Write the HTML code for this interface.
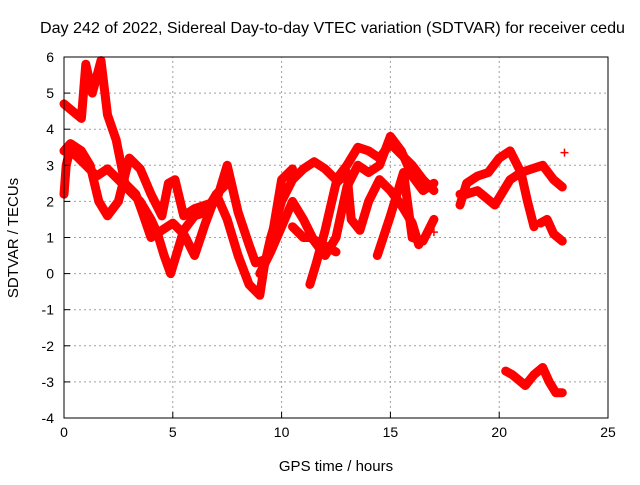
<!DOCTYPE html>
<html><head><meta charset="utf-8"><style>
body{margin:0;background:#fff;}
svg text{font-family:"Liberation Sans",sans-serif;font-size:14px;fill:#000;}
</style></head><body>
<svg id="chart" width="640" height="480" viewBox="0 0 640 480" xmlns="http://www.w3.org/2000/svg">
<text x="40" y="33" style="font-size:16px" textLength="585" lengthAdjust="spacingAndGlyphs">Day 242 of 2022, Sidereal Day-to-day VTEC variation (SDTVAR) for receiver cedu</text>
<g id="grid"></g>
<g id="marks"></g>
<rect x="64" y="57" width="544" height="361" fill="none" stroke="#000" stroke-width="1"/>
<g id="ticks"></g>
<text x="336" y="471" text-anchor="middle" style="font-size:15px">GPS time / hours</text>
<text transform="translate(18,238) rotate(-90)" text-anchor="middle" style="font-size:15px">SDTVAR / TECUs</text>
</svg>
<script>
const xTicks=[0,5,10,15,20,25];
const yTicks=[-4,-3,-2,-1,0,1,2,3,4,5,6];
const track1=[[0,2.2],[0.1,3.0],[0.3,3.5],[0.5,3.3],[1,3.0],[1.5,2.7],[2,2.9],[2.5,2.6],[3,2.3],[3.5,2.0],[4,1.5],[4.3,1.1],[4.6,0.5],[4.9,0.0],[5.1,0.4],[5.5,1.2],[6,1.6],[6.5,1.7],[7,2.2],[7.5,1.5],[8,0.5],[8.5,-0.3],[9,-0.6],[9.2,0.2],[9.5,1.0],[10,2.0],[10.5,2.6],[11,2.9],[11.5,3.1],[12,2.9],[12.5,2.6],[13,3.0],[13.5,3.5],[14,3.4],[14.5,3.2],[15,3.6],[15.5,3.3],[16,3.0],[16.5,2.6],[17,2.3]];
const track2=[[0,3.4],[0.3,3.6],[0.8,3.4],[1.2,3.0],[1.6,2.0],[2,1.6],[2.5,2.0],[3,3.2],[3.5,2.9],[4,2.2],[4.5,1.6],[4.8,2.5],[5.1,2.6],[5.5,1.6],[6,1.8],[7,2.0],[7.5,3.0],[8,1.7],[8.5,0.8],[8.8,0.3],[9.3,0.4],[9.5,0.8],[10,2.6],[10.5,2.9]];
const track3=[[0,4.7],[0.4,4.5],[0.8,4.3],[1,5.8],[1.3,5.0],[1.7,5.9],[2,4.4],[2.4,3.7],[2.8,2.5],[3.3,2.2],[3.6,1.7],[4,1.0],[4.5,1.2],[5,1.4],[5.5,1.1],[6,0.5],[6.5,1.4],[7,2.2],[7.5,2.5]];
const track4=[[9,0],[9.5,0.6],[10,1.3],[10.5,2.0],[11,1.5],[11.5,0.9],[12,0.5],[12.5,1.0],[13,2.4],[13.5,3.0],[14,2.8],[14.5,3.0],[15,3.8],[15.5,3.4],[16,2.7],[16.5,2.3],[17,2.5]];
const track5=[[11.3,-0.3],[11.6,0.3],[12,1.2],[12.5,2.5],[13,2.8],[13.2,1.5],[13.6,1.2],[14,2.0],[14.5,2.6],[15,2.3],[15.5,1.9],[16,1.4],[16.3,0.8]];
const track6=[[14.4,0.5],[15,1.6],[15.6,2.8],[16,1.0],[16.5,0.9],[17,1.5]];
const track7=[[10.5,1.3],[11,1.0],[11.3,1.0],[12.5,0.6]];
const track8=[[18.2,1.9],[18.5,2.5],[19,2.7],[19.5,2.8],[20,3.2],[20.5,3.4],[21,2.8],[21.3,2.0],[21.6,1.3]];
const track9=[[18.2,2.2],[18.5,2.2],[19,2.3],[19.8,1.9],[20.5,2.6],[21,2.8],[21.5,2.9],[22,3.0],[22.5,2.6],[22.9,2.4]];
const track10=[[21.9,1.4],[22.2,1.5],[22.5,1.1],[22.9,0.9]];
const track11=[[20.3,-2.7],[20.6,-2.8],[21,-3.0],[21.2,-3.1],[21.6,-2.8],[22,-2.6],[22.3,-3.0],[22.6,-3.3],[22.9,-3.3]];
const isolated=[[23,3.35],[17,1.15]];
const tracks=[track1,track2,track3,track4,track5,track6,track7,track8,track9,track10,track11];

const NS="http://www.w3.org/2000/svg";
const X0=64,X1=608,Y0=418,Y1=57;
function sx(v){return X0+(v-0)/(25-0)*(X1-X0);}
function sy(v){return Y0-(v+4)/(6+4)*(Y0-Y1);}
function mk(tag,attrs,parent){const e=document.createElementNS(NS,tag);for(const k in attrs)e.setAttribute(k,attrs[k]);parent.appendChild(e);return e;}
const grid=document.getElementById('grid'),ticks=document.getElementById('ticks'),marks=document.getElementById('marks');
xTicks.forEach(t=>{
  const x=sx(t);
  if(t>0&&t<25){const g=mk('line',{x1:x,y1:Y0,x2:x,y2:Y1,stroke:'#a0a0a0','stroke-dasharray':'2,3'},grid);
  
  }
  const tk=mk('line',{x1:x,y1:Y0,x2:x,y2:Y0-6,stroke:'#000'},ticks);
  
  
  const tx=mk('text',{x:x,y:Y0+19,'text-anchor':'middle'},ticks);tx.textContent=t;
  
  
});
yTicks.forEach(t=>{
  const y=sy(t);
  if(t>-4&&t<6){const g=mk('line',{x1:X0,y1:y,x2:X1,y2:y,stroke:'#a0a0a0','stroke-dasharray':'2,3'},grid);
  
  }
  const tk=mk('line',{x1:X0,y1:y,x2:X0+6,y2:y,stroke:'#000'},ticks);
  
  
  const tx=mk('text',{x:X0-10,y:y+5,'text-anchor':'end'},ticks);tx.textContent=t;
  
  
});
function plus(p){
  const x=sx(p[0]),y=sy(p[1]);
  const m=mk('path',{d:`M${x-4},${y}H${x+4}M${x},${y-4}V${y+4}`,stroke:'#f00','stroke-width':1.5},marks);
  
  
}
tracks.forEach(tr=>{
  const d=tr.map((p,i)=>(i?'L':'M')+sx(p[0]).toFixed(1)+','+sy(p[1]).toFixed(1)).join('');
  const pl=mk('path',{d:d,fill:'none',stroke:'#f00','stroke-width':9,'stroke-linejoin':'round','stroke-linecap':'round'},marks);
  
  
  tr.forEach(plus);
});
isolated.forEach(plus);
</script>
</body></html>
